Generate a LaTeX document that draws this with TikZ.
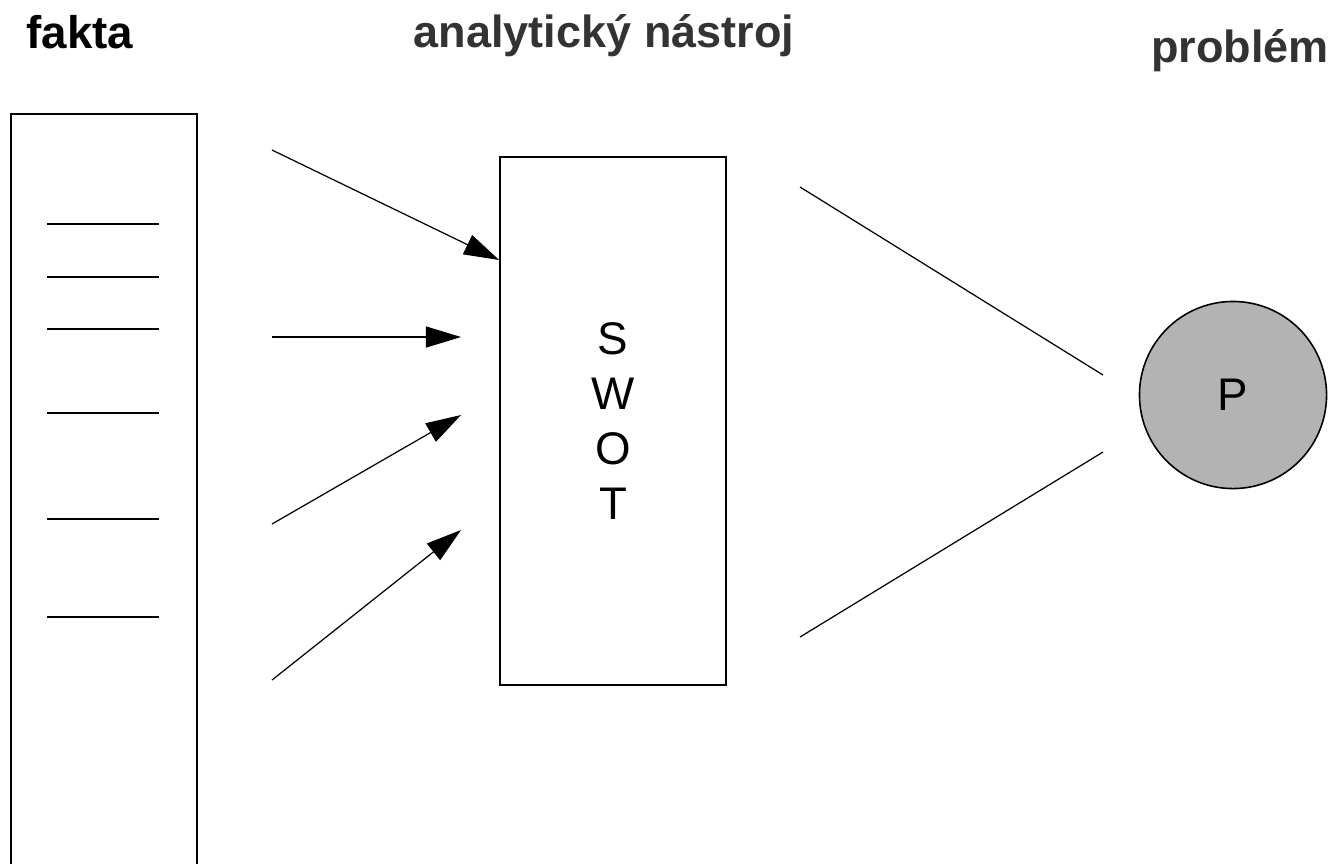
\documentclass[tikz,border=0pt]{standalone}
\usepackage{fontspec}
\setmainfont{Liberation Sans}
\usetikzlibrary{arrows.meta,positioning}
\definecolor{titlegrey}{RGB}{51,51,51}
\definecolor{ballgrey}{RGB}{179,179,179}

\begin{document}
\begin{tikzpicture}[x=0.01cm, y=-0.01cm,
    heading/.style={font=\fontsize{12.8}{15}\selectfont\bfseries, text=titlegrey, anchor=base},
    factbox/.style={rectangle, draw, line width=0.5pt, minimum width=1.86cm, minimum height=7.8cm,
                    anchor=north west, inner sep=0pt},
    toolbox/.style={rectangle, draw, line width=0.45pt, minimum width=2.26cm, minimum height=5.28cm,
                    align=center, font=\fontsize{13}{15.6}\selectfont, inner sep=0pt},
    ball/.style={circle, draw, line width=0.45pt, fill=ballgrey, minimum size=1.87cm,
                 font=\fontsize{13}{15}\selectfont, inner sep=0pt},
    feed/.style={line width=0.35pt, -{Triangle[length=10pt,width=6pt]}},
    focus/.style={line width=0.35pt}
]
    \useasboundingbox (0,0) rectangle (1337,863);
    \clip (0,0) rectangle (1337,863);
    % headings
    \node[heading, text=black, font=\fontsize{13}{15}\selectfont\bfseries] (hfakta) at (80,48) {fakta};
    \node[heading] (htool) at (604,47) {analytický nástroj};
    \node[heading] (hprob) at (1240,62) {problém};
    % facts
    \node[factbox] (fakta) at (10,113) {};
    \foreach \y in {224,277,329,413,519,617}
        \draw[focus] (47,\y) -- (159,\y);
    % tool
    \node[toolbox] (swot) at (613,421) {S\\ W\\ O\\ T};
    \coordinate (in1) at (272,150);
    \coordinate (in2) at (272,337);
    \coordinate (in3) at (272,524);
    \coordinate (in4) at (272,680);
    \coordinate (tip2) at (461,337);
    \coordinate (tip3) at (461,415);
    \coordinate (tip4) at (461,530);
    \draw[feed] (in1) -- (swot.west |- 0,260);
    \draw[feed] (in2) -- (tip2);
    \draw[feed] (in3) -- (tip3);
    \draw[feed] (in4) -- (tip4);
    % problem
    \node[ball] (p) at (1233,395) {P};
    \coordinate (out1) at (800,187);
    \coordinate (out2) at (800,637);
    \coordinate (near1) at (1103,375);
    \coordinate (near2) at (1103,452);
    \draw[focus] (out1) -- (near1);
    \draw[focus] (out2) -- (near2);
\end{tikzpicture}
\end{document}
